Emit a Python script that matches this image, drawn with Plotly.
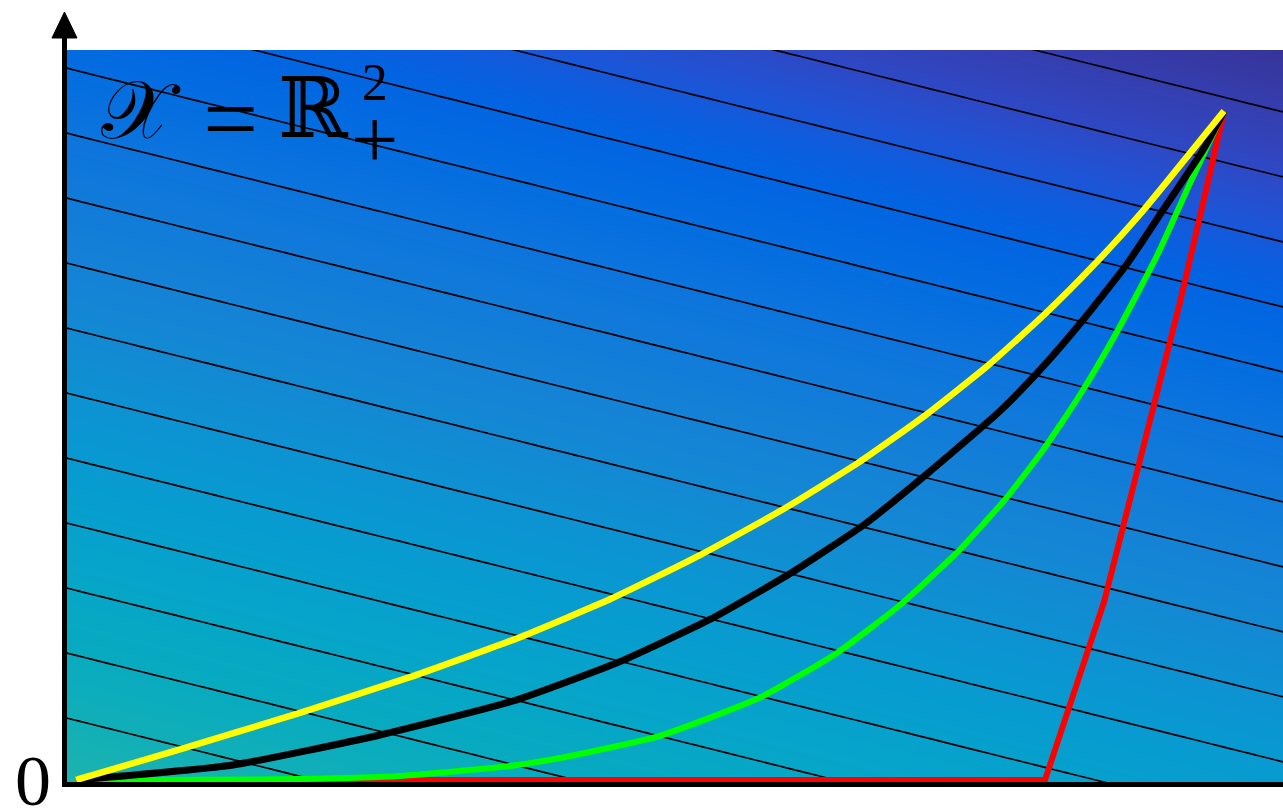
import numpy as np
import plotly.graph_objects as go

# ---------------- data (data units: origin (0,0), common end point (1,1)) ----
yellow_x = [0.0, 0.0906, 0.1951, 0.2909, 0.3868, 0.4669, 0.5436, 0.6141, 0.6812, 0.7395, 0.7944, 0.8432, 0.8859, 0.9294, 0.9704, 1.0]
yellow_y = [0.0, 0.0457, 0.1004, 0.1537, 0.2135, 0.2716, 0.3362, 0.4028, 0.4740, 0.5447, 0.6196, 0.6952, 0.7686, 0.8508, 0.9371, 1.0]

black_x = [0.0, 0.1368, 0.2648, 0.3807, 0.4730, 0.5531, 0.6228, 0.6873, 0.7422, 0.8049, 0.8397, 0.8772, 0.9155, 0.9469, 0.9817, 1.0]
black_y = [0.0, 0.0224, 0.0673, 0.1181, 0.1764, 0.2407, 0.3094, 0.3827, 0.4589, 0.5516, 0.6129, 0.6876, 0.7713, 0.8520, 0.9417, 1.0]

green_x = [0.0, 0.1080, 0.1951, 0.2822, 0.3780, 0.4216, 0.5070, 0.5958, 0.6629, 0.7178, 0.7666, 0.8092, 0.8423, 0.8746, 0.9068, 0.9416, 0.9704, 1.0]
green_y = [0.0, 0.0004, 0.0015, 0.0060, 0.0209, 0.0329, 0.0652, 0.1232, 0.1900, 0.2616, 0.3386, 0.4191, 0.4930, 0.5759, 0.6700, 0.7836, 0.8921, 1.0]

red_x = [0.0, 0.8441, 0.8955, 0.9617, 0.9834, 1.0]
red_y = [0.0, 0.0, 0.2661, 0.7145, 0.8744, 1.0]

# linear objective shown as background field
objective_weights = [0.3, 0.7]
grid_x = np.linspace(-0.05, 1.10, 60)
grid_y = np.linspace(-0.05, 1.15, 60)

# parula colormap (used reversed)
parula = [
    (0.2081, 0.1663, 0.5292), (0.2116, 0.1898, 0.5777), (0.2123, 0.2138, 0.6270), (0.2081, 0.2386, 0.6771),
    (0.1959, 0.2645, 0.7279), (0.1707, 0.2919, 0.7792), (0.1253, 0.3242, 0.8303), (0.0591, 0.3598, 0.8683),
    (0.0117, 0.3875, 0.8820), (0.0060, 0.4086, 0.8828), (0.0165, 0.4266, 0.8786), (0.0329, 0.4430, 0.8720),
    (0.0498, 0.4586, 0.8641), (0.0629, 0.4737, 0.8554), (0.0723, 0.4887, 0.8467), (0.0779, 0.5040, 0.8384),
    (0.0793, 0.5200, 0.8312), (0.0749, 0.5375, 0.8263), (0.0641, 0.5570, 0.8240), (0.0488, 0.5772, 0.8228),
    (0.0343, 0.5966, 0.8199), (0.0265, 0.6137, 0.8135), (0.0239, 0.6287, 0.8038), (0.0231, 0.6418, 0.7913),
    (0.0228, 0.6535, 0.7768), (0.0267, 0.6642, 0.7607), (0.0384, 0.6743, 0.7436), (0.0590, 0.6838, 0.7254),
    (0.0843, 0.6928, 0.7062), (0.1133, 0.7015, 0.6859), (0.1453, 0.7098, 0.6646), (0.1801, 0.7177, 0.6424),
    (0.2178, 0.7250, 0.6193), (0.2586, 0.7317, 0.5954), (0.3022, 0.7376, 0.5712), (0.3482, 0.7424, 0.5473),
    (0.3953, 0.7459, 0.5244), (0.4420, 0.7481, 0.5033), (0.4871, 0.7491, 0.4840), (0.5300, 0.7491, 0.4661),
    (0.5709, 0.7485, 0.4494), (0.6099, 0.7473, 0.4337), (0.6473, 0.7456, 0.4188), (0.6834, 0.7435, 0.4044),
    (0.7184, 0.7411, 0.3905), (0.7525, 0.7384, 0.3768), (0.7858, 0.7356, 0.3633), (0.8185, 0.7327, 0.3498),
    (0.8507, 0.7299, 0.3360), (0.8824, 0.7274, 0.3217), (0.9139, 0.7258, 0.3063), (0.9450, 0.7261, 0.2886),
    (0.9739, 0.7314, 0.2666), (0.9938, 0.7455, 0.2403), (0.9990, 0.7653, 0.2164), (0.9955, 0.7861, 0.1967),
    (0.9880, 0.8066, 0.1794), (0.9789, 0.8271, 0.1633), (0.9697, 0.8481, 0.1475), (0.9626, 0.8705, 0.1309),
    (0.9589, 0.8949, 0.1132), (0.9598, 0.9218, 0.0948), (0.9661, 0.9514, 0.0755), (0.9763, 0.9831, 0.0538),
]

# ---------------- figure ----------------
n = len(parula)
colorscale = []
for i, c in enumerate(reversed(parula)):
    colorscale.append([i / (n - 1), "rgb(%d,%d,%d)" % tuple(int(round(v * 255)) for v in c)])

GX, GY = np.meshgrid(grid_x, grid_y)
Z = objective_weights[0] * GX + objective_weights[1] * GY

fig = go.Figure()
fig.add_trace(go.Contour(
    x=grid_x, y=grid_y, z=Z,
    colorscale=colorscale, zmin=-1.343, zmax=1.138,
    contours=dict(coloring="heatmap", start=-0.0736, end=1.3, size=0.0680, showlabels=False),
    line=dict(color="black", width=1.7),
    showscale=False, hoverinfo="skip",
))

curves = [
    (red_x, red_y, "#ff0000", 6, "linear"),
    (green_x, green_y, "#00ff00", 6, "spline"),
    (black_x, black_y, "#000000", 7, "spline"),
    (yellow_x, yellow_y, "#ffff00", 6.5, "spline"),
]
for xs, ys, col, w, shp in curves:
    line = dict(color=col, width=w, shape=shp)
    if shp == "spline":
        line["smoothing"] = 0.5
    fig.add_trace(go.Scatter(x=xs, y=ys, mode="lines", line=line,
                             hoverinfo="skip", showlegend=False))

axis_common = dict(showgrid=False, zeroline=False, showticklabels=False, ticks="",
                   showline=True, linewidth=5, linecolor="black")

fig.update_layout(
    width=1283, height=810,
    margin=dict(l=67, r=0, t=50, b=28, pad=0),
    paper_bgcolor="white", plot_bgcolor="white",
    showlegend=False,
    xaxis=dict(range=[-0.00784, 1.0514], **axis_common),
    yaxis=dict(range=[-0.003, 1.0912], **axis_common),
    shapes=[
        dict(type="line", xref="paper", yref="paper", x0=-0.00206, x1=-0.00206, y0=0.99, y1=1.02,
             line=dict(color="black", width=5)),
        dict(type="path", xref="paper", yref="paper",
             path="M -0.01234 1.0164 L 0.00822 1.0164 L -0.00206 1.0519 Z",
             fillcolor="black", line=dict(color="black", width=1)),
    ],
    annotations=[
        dict(text="0", xref="paper", yref="paper", x=-0.028, y=0.002, xanchor="center", yanchor="middle",
             showarrow=False, font=dict(family="Liberation Serif", size=72, color="black")),
        dict(text="𝒳", xref="paper", yref="paper", x=(141 - 67) / 1216, y=(782 - 110) / 732,
             xanchor="center", yanchor="middle",
             showarrow=False, font=dict(family="DejaVu Serif, Liberation Serif", size=82, color="black")),
        dict(text="=", xref="paper", yref="paper", x=(230 - 67) / 1216, y=(782 - 118) / 732,
             xanchor="center", yanchor="middle",
             showarrow=False, font=dict(family="Liberation Serif", size=98, color="black")),
        dict(text="ℝ", xref="paper", yref="paper", x=(313 - 67) / 1216, y=(782 - 108) / 732,
             xanchor="center", yanchor="middle",
             showarrow=False, font=dict(family="DejaVu Serif, Liberation Serif", size=84, color="black")),
        dict(text="2<br><span style='font-size:84px'>+</span>", xref="paper", yref="paper",
             x=(374 - 67) / 1216, y=(782 - 120) / 732,
             xanchor="center", yanchor="middle", align="center",
             showarrow=False, font=dict(family="Liberation Serif", size=52, color="black")),
    ],
)

fig.write_html("out.html")
